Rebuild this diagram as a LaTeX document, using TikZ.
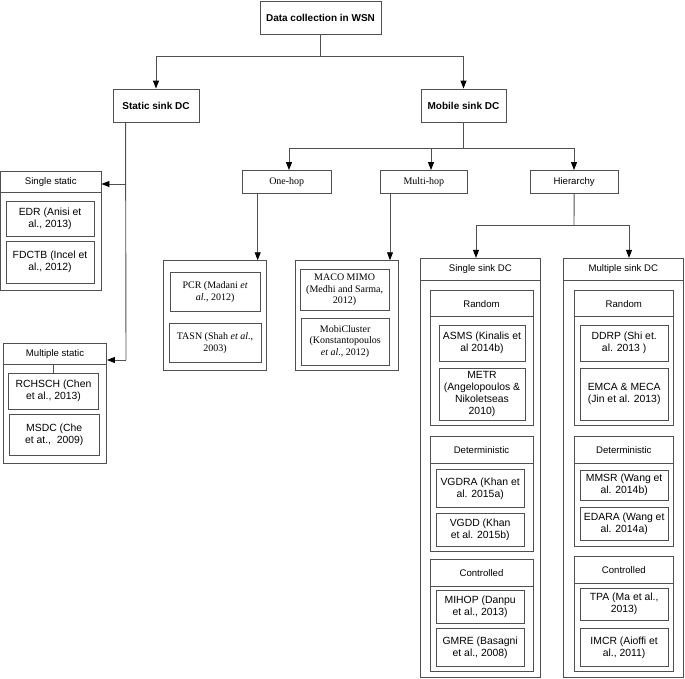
\documentclass[tikz,border=0pt]{standalone}
\usepackage{fontspec}
\setmainfont{Liberation Sans}
\newfontfamily\serfam{Liberation Serif}
\usetikzlibrary{arrows.meta}
\definecolor{lc}{RGB}{80,80,80}
\tikzset{
  bx/.style={draw=lc, line width=0.9pt, inner sep=0pt, align=center, font=\fontsize{10.4}{12}\selectfont},
  hd/.style={bx, font=\fontsize{9.6}{11.5}\selectfont},
  ttl/.style={bx, font=\bfseries\fontsize{10}{12}\selectfont},
  ser/.style={bx, font=\serfam\fontsize{10}{11.7}\selectfont},
  grp/.style={draw=lc, line width=0.9pt, inner sep=0pt},
  ln/.style={draw=lc, line width=0.9pt},
  arr/.style={ln, -{Triangle[length=8pt,width=6pt,color=black]}},
}
\newcommand\mkbox[7]{\node[#1, minimum width={(#5-#3)*1pt}, minimum height={(#6-#4)*1pt}] (#2) at ({(#3+#5)/2},{(#4+#6)/2}) {#7};}
\begin{document}
\begin{tikzpicture}[x=1pt,y=-1pt]
\useasboundingbox (0,0) rectangle (685,678);
% top level
\mkbox{ttl}{root}{260}{1.5}{381}{34}{Data collection in WSN}
\mkbox{ttl}{static}{113}{89}{199}{122}{Static sink DC}
\mkbox{ttl}{mobile}{421}{89}{506}{122}{Mobile sink DC}
% single static
\mkbox{grp}{sstatg}{0.6}{171}{101}{290}{}
\mkbox{hd}{sstat}{0.6}{171}{101}{192.3}{Single static}
\mkbox{bx}{edr}{6}{201}{94}{236}{EDR (Anisi et\\al., 2013)}
\mkbox{bx}{fdctb}{6}{241.5}{94}{283}{FDCTB (Incel et\\al., 2012)}
% multiple static
\mkbox{grp}{mstatg}{3.5}{343}{106.5}{463}{}
\mkbox{hd}{mstat}{3.5}{343}{106.5}{364.5}{Multiple static}
\mkbox{bx}{rchsch}{8.5}{373.5}{98.5}{409}{RCHSCH (Chen\\et al., 2013)}
\mkbox{bx}{msdc}{9.5}{414.5}{99}{455}{MSDC (Che\\et at.,~~2009)}
\draw[ln] (rchsch.north |- mstat.south) -- (rchsch.north);
% mobile second level
\mkbox{ser}{onehop}{242.5}{170.5}{331}{193}{One-hop}
\mkbox{ser}{multihop}{380}{170.5}{467.7}{193}{Multi-hop}
\mkbox{hd}{hier}{530}{170.5}{618.3}{193}{Hierarchy}
% one-hop group
\mkbox{grp}{pcrg}{163.5}{260.7}{266}{370.7}{}
\mkbox{ser}{pcr}{170}{272}{260.3}{311.7}{PCR (Madani \textit{et}\\\textit{al}., 2012)}
\mkbox{ser}{tasn}{169}{323.7}{261}{362.7}{TASN (Shah \textit{et al}.,\\2003)}
% multi-hop group
\mkbox{grp}{macog}{295.7}{260.7}{398.7}{370.7}{}
\mkbox{ser}{maco}{300}{269.3}{389.3}{310.7}{MACO MIMO\\(Medhi and Sarma,\\2012)}
\mkbox{ser}{mobi}{301}{318}{389.3}{365}{MobiCluster\\(Konstantopoulos\\\textit{et al}., 2012)}
% single sink DC
\mkbox{grp}{ssg}{420}{258.3}{540.7}{677}{}
\mkbox{hd}{ss}{420}{258.3}{540.7}{280.7}{Single sink DC}
\mkbox{grp}{srg}{430}{290.7}{533}{425.3}{}
\mkbox{hd}{srh}{430}{290.7}{533}{316.7}{Random}
\mkbox{bx}{asms}{439}{325.3}{525}{361.3}{ASMS (Kinalis et\\al 2014b)}
\mkbox{bx}{metr}{439}{368}{525}{420}{METR\\(Angelopoulos \&\\Nikoletseas\\2010)}
\mkbox{grp}{sdg}{430}{436.7}{533}{551.7}{}
\mkbox{hd}{sdh}{430}{436.7}{533}{463.3}{Deterministic}
\mkbox{bx}{vgdra}{436}{469.3}{524.3}{507.7}{VGDRA (Khan et\\al. 2015a)}
\mkbox{bx}{vgdd}{436}{513.3}{524.3}{546.7}{VGDD (Khan\\et al. 2015b)}
\mkbox{grp}{scg}{430}{559.3}{533}{671.7}{}
\mkbox{hd}{sch}{430}{559.3}{533}{586}{Controlled}
\mkbox{bx}{mihop}{436}{590}{524.3}{623.3}{MIHOP (Danpu\\et al., 2013)}
\mkbox{bx}{gmre}{436}{628.3}{524.3}{666.7}{GMRE (Basagni\\et al., 2008)}
% multiple sink DC
\mkbox{grp}{msg}{563.3}{258.3}{683.3}{677}{}
\mkbox{hd}{ms}{563.3}{258.3}{683.3}{280.7}{Multiple sink DC}
\mkbox{grp}{mrg}{574.3}{290.7}{673.3}{425.3}{}
\mkbox{hd}{mrh}{574.3}{290.7}{673.3}{316.7}{Random}
\mkbox{bx}{ddrp}{580}{325}{668.3}{361}{DDRP (Shi et.\\al. 2013 )}
\mkbox{bx}{emca}{580}{368}{668.3}{420}{EMCA \& MECA\\(Jin et al. 2013)}
\mkbox{grp}{mdg}{574.3}{436.7}{673.3}{546.7}{}
\mkbox{hd}{mdh}{574.3}{436.7}{673.3}{463.3}{Deterministic}
\mkbox{bx}{mmsr}{580}{470}{668.3}{500}{MMSR (Wang et\\al. 2014b)}
\mkbox{bx}{edara}{580}{507.3}{668.3}{540}{EDARA (Wang et\\al. 2014a)}
\mkbox{grp}{mcg}{574.3}{556.7}{673.3}{671.7}{}
\mkbox{hd}{mch}{574.3}{556.7}{673.3}{583.3}{Controlled}
\mkbox{bx}{tpa}{580}{588.3}{668.3}{620}{TPA (Ma et al.,\\2013)}
\mkbox{bx}{imcr}{580}{628.3}{668.3}{666.7}{IMCR (Aioffi et\\al., 2011)}
% connectors: root
\coordinate (j1) at (320.5,56);
\draw[ln] (root.south) -- (j1);
\draw[arr] (j1) -| (static.north);
\draw[arr] (j1) -| (mobile.north);
% static branch
\coordinate (sv0) at ([xshift=13pt]static.south west);
\coordinate (sv1) at (126,184);
\coordinate (sv2) at (126,360);
\draw[ln] (sv0) -- (sv2);
\draw[arr] (sv1) -- (sv1 -| sstat.east);
\draw[arr] (sv2) -- (sv2 -| mstatg.east);
% mobile branch
\coordinate (j2) at (463.5,148);
\draw[ln] (mobile.south) -- (j2);
\coordinate (b1) at (289,148);
\coordinate (b2) at (431,148);
\coordinate (b3) at (574,148);
\draw[ln] (b1) -- (b3);
\draw[arr] (b1) -- (b1 |- onehop.north);
\draw[arr] (b2) -- (b2 |- multihop.north);
\draw[arr] (b3) -- (b3 |- hier.north);
\coordinate (o1) at (257.7,193);
\draw[arr] (o1) -- (o1 |- pcrg.north);
\coordinate (m1) at (390,193);
\draw[arr] (m1) -- (m1 |- macog.north);
% hierarchy branch
\coordinate (j3) at (574,225);
\draw[ln] (hier.south) -- (j3);
\coordinate (h1) at (476,225);
\coordinate (h2) at (629,225);
\draw[ln] (h1) -- (h2);
\draw[arr] (h1) -- (h1 |- ssg.north);
\draw[arr] (h2) -- (h2 |- msg.north);
\end{tikzpicture}
\end{document}
